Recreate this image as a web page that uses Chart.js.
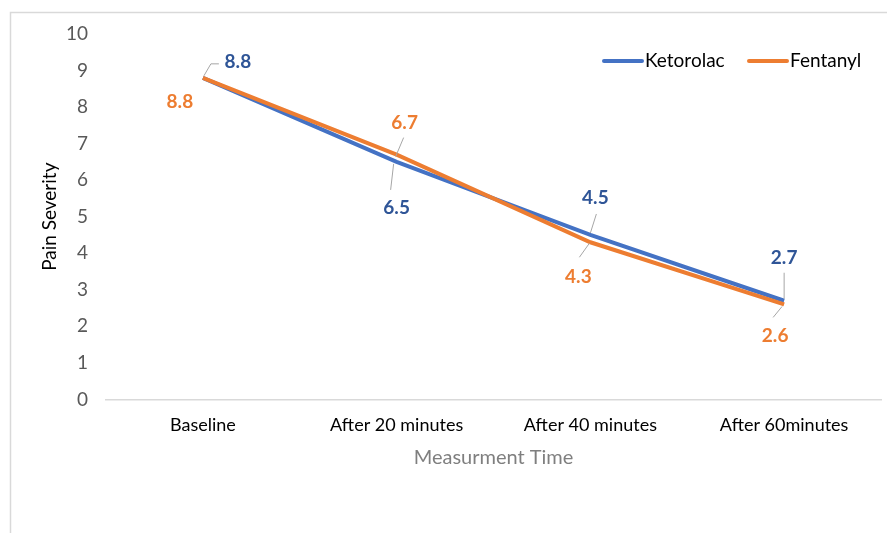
<!DOCTYPE html>
<html>
<head>
<meta charset="utf-8">
<script src="https://cdn.jsdelivr.net/npm/chart.js@4.4.1/dist/chart.umd.min.js"></script>
<style>
  html, body { margin: 0; padding: 0; background: #fff; }
  #wrap { position: relative; width: 887px; height: 533px; }
</style>
</head>
<body>
<div id="wrap"><canvas id="painChart" width="887" height="533"></canvas></div>
<script>
// Dados do gráfico
const categories = ['Baseline', 'After 20 minutes', 'After 40 minutes', 'After 60minutes'];
const ketorolac = [8.8, 6.5, 4.5, 2.7];
const fentanyl = [8.8, 6.7, 4.3, 2.6];
const yTicks = [0, 1, 2, 3, 4, 5, 6, 7, 8, 9, 10];

// Cores
const colors = {
    blue: '#4472C4',
    blueLabel: '#2F5597',
    orange: '#ED7D31',
    axis: '#D9D9D9',
    tick: '#595959',
    leader: '#A6A6A6'
};

const FONT = "Lato, 'Liberation Sans', sans-serif";

// Posição dos rótulos em relação ao ponto (dx, dy) e linhas de chamada
const labelLayout = [
    [ // Ketorolac
        { dx: 35, dy: -16, leader: [[1, -2], [8, -14], [16, -14]] },
        { dx: 0, dy: 46, leader: [[-3, 2], [-6, 28]] },
        { dx: 5, dy: -37, leader: [[0, -2], [6, -21]] },
        { dx: 0, dy: -43, leader: [[0, -2], [0, -28]] }
    ],
    [ // Fentanyl
        { dx: -23, dy: 24, leader: null },
        { dx: 8, dy: -32, leader: [[-1, 2], [7, -17]] },
        { dx: -12, dy: 35, leader: [[-1, 1], [-11, 15]] },
        { dx: -9, dy: 31, leader: [[-2, 2], [-11, 13]] }
    ]
];

// Moldura e legenda desenhadas à mão (estilo Excel)
const excelDecor = {
    id: 'excelDecor',
    beforeDraw(chart) {
        const ctx = chart.ctx;
        ctx.save();
        ctx.strokeStyle = colors.axis;
        ctx.lineWidth = 1.5;
        ctx.beginPath();
        ctx.moveTo(10.5, 533);
        ctx.lineTo(10.5, 12.5);
        ctx.lineTo(887, 12.5);
        ctx.stroke();
        ctx.restore();
    },
    afterDraw(chart) {
        const ctx = chart.ctx;
        ctx.save();
        // Legenda
        const items = [
            { text: 'Ketorolac', color: colors.blue, x: 602 },
            { text: 'Fentanyl', color: colors.orange, x: 747 }
        ];
        ctx.font = '19px ' + FONT;
        ctx.textBaseline = 'middle';
        items.forEach(it => {
            ctx.strokeStyle = it.color;
            ctx.lineWidth = 4;
            ctx.lineCap = 'round';
            ctx.beginPath();
            ctx.moveTo(it.x + 2, 61);
            ctx.lineTo(it.x + 40, 61);
            ctx.stroke();
            ctx.fillStyle = '#000';
            ctx.textAlign = 'left';
            ctx.fillText(it.text, it.x + 43, 61);
        });

        // Rótulos de dados
        const labelColors = [colors.blueLabel, colors.orange];
        chart.data.datasets.forEach((ds, di) => {
            const meta = chart.getDatasetMeta(di);
            meta.data.forEach((pt, i) => {
                const lay = labelLayout[di][i];
                if (lay.leader) {
                    ctx.strokeStyle = colors.leader;
                    ctx.lineWidth = 1;
                    ctx.lineCap = 'butt';
                    ctx.beginPath();
                    lay.leader.forEach((p, k) => {
                        if (k === 0) ctx.moveTo(pt.x + p[0], pt.y + p[1]);
                        else ctx.lineTo(pt.x + p[0], pt.y + p[1]);
                    });
                    ctx.stroke();
                }
                ctx.fillStyle = labelColors[di];
                ctx.font = 'bold 19px ' + FONT;
                ctx.textAlign = 'center';
                ctx.textBaseline = 'middle';
                ctx.fillText(ds.data[i].toFixed(1), pt.x + lay.dx, pt.y + lay.dy);
            });
        });
        ctx.restore();
    }
};

new Chart(document.getElementById('painChart'), {
    type: 'line',
    data: {
        labels: categories,
        datasets: [
            {
                label: 'Ketorolac',
                data: ketorolac,
                borderColor: colors.blue,
                backgroundColor: colors.blue,
                borderWidth: 4,
                pointRadius: 0,
                tension: 0,
                order: 1
            },
            {
                label: 'Fentanyl',
                data: fentanyl,
                borderColor: colors.orange,
                backgroundColor: colors.orange,
                borderWidth: 4,
                pointRadius: 0,
                tension: 0,
                order: 0
            }
        ]
    },
    options: {
        responsive: false,
        animation: false,
        layout: {
            padding: { top: 34, right: 6, bottom: 63, left: 0 }
        },
        plugins: {
            legend: { display: false },
            tooltip: { enabled: false }
        },
        scales: {
            x: {
                offset: true,
                grid: { display: false, drawTicks: false },
                border: { display: true, color: colors.axis, width: 1.5 },
                ticks: {
                    color: '#000',
                    padding: 15,
                    font: { family: FONT, size: 18 },
                    maxRotation: 0,
                    autoSkip: false
                },
                title: {
                    display: true,
                    text: 'Measurment Time',
                    color: '#7F7F7F',
                    font: { family: FONT, size: 20 },
                    padding: { top: -5, bottom: 0 }
                }
            },
            y: {
                min: 0,
                max: 10,
                afterFit(scale) { scale.width = 106; },
                afterBuildTicks(scale) { scale.ticks = yTicks.map(v => ({ value: v })); },
                grid: { display: false, drawTicks: false },
                border: { display: false },
                ticks: {
                    color: colors.tick,
                    padding: 18,
                    font: { family: FONT, size: 19 }
                },
                title: {
                    display: true,
                    text: 'Pain Severity',
                    color: '#000',
                    font: { family: FONT, size: 19 },
                    padding: { top: 38 }
                }
            }
        }
    },
    plugins: [excelDecor]
});
</script>
</body>
</html>
